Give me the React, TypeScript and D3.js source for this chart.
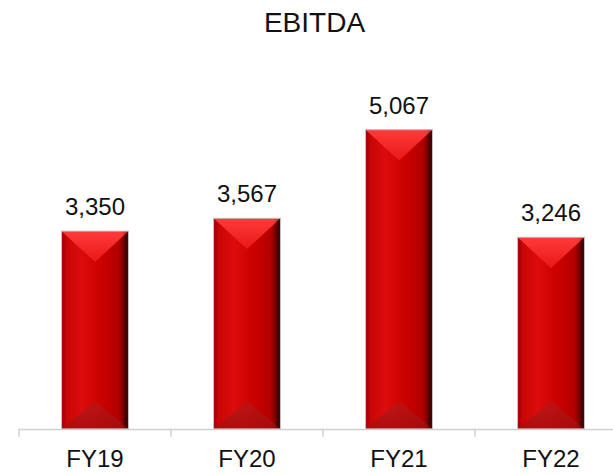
import React from "react";
import * as d3 from "d3";

const categories = ["FY19", "FY20", "FY21", "FY22"];
const values = [3350, 3567, 5067, 3246];
const title = "EBITDA";

const W = 613;
const H = 475;
const FONT = "'Liberation Sans', Arial, sans-serif";

export default function App() {
  const x = d3.scaleBand<string>().domain(categories).range([19, 627]).paddingInner(0.56).paddingOuter(0.28);
  const baseY = 429;
  const y = d3.scaleLinear().domain([0, 7000]).range([baseY, baseY - 7000 / 16.93]);
  const fmt = d3.format(",");
  const step = x.step();
  const ticks = d3.range(categories.length + 1).map((i) => 19 + i * step);

  return (
    <svg width={W} height={H} style={{ position: "absolute", left: 0, top: 0 }}>
      <defs>
        <linearGradient id="body" x1="0" x2="1" y1="0" y2="0">
          <stop offset="0" stopColor="#9a0000" />
          <stop offset="0.08" stopColor="#c80606" />
          <stop offset="0.3" stopColor="#dc0c0c" />
          <stop offset="0.6" stopColor="#cc0000" />
          <stop offset="0.85" stopColor="#b20000" />
          <stop offset="0.93" stopColor="#7a0000" />
          <stop offset="1" stopColor="#3a0000" />
        </linearGradient>
        <linearGradient id="topTri" x1="0" x2="0" y1="0" y2="1">
          <stop offset="0" stopColor="#ff3a3a" />
          <stop offset="1" stopColor="#e81818" />
        </linearGradient>
        <linearGradient id="botTri" x1="0" x2="0" y1="0" y2="1">
          <stop offset="0" stopColor="#b81818" />
          <stop offset="1" stopColor="#a01010" />
        </linearGradient>
        <linearGradient id="sideR" x1="0" x2="1" y1="0" y2="0">
          <stop offset="0" stopColor="#000" stopOpacity="0" />
          <stop offset="1" stopColor="#000" stopOpacity="0.35" />
        </linearGradient>
      </defs>
      <rect width={W} height={H} fill="#ffffff" />
      <text x={W / 2 + 8} y={32} textAnchor="middle" fontFamily={FONT} fontSize={28} fill="#111">
        {title}
      </text>
      {categories.map((c, i) => {
        const bx = x(c)!;
        const bw = x.bandwidth();
        const top = y(values[i]);
        const bot = y(0);
        const cx = bx + bw / 2;
        const bev = bw * 0.46;
        const bevB = bw * 0.42;
        return (
          <g key={c}>
            <rect x={bx} y={top} width={bw} height={bot - top} fill="url(#body)" />
            <path d={`M${bx},${top}L${bx + bw},${top}L${cx},${top + bev}Z`} fill="url(#topTri)" />
            <path
              d={`M${bx},${bot}L${bx + bw},${bot}L${cx},${bot - bevB}Z`}
              fill="url(#botTri)"
              opacity={0.75}
            />
            <rect x={bx + bw * 0.9} y={top} width={bw * 0.1} height={bot - top} fill="url(#sideR)" />
            <rect x={bx} y={top} width={bw} height={bot - top} fill="none" stroke="#c4c4c4" strokeWidth={1} />
            <text x={cx} y={top - 16} textAnchor="middle" fontFamily={FONT} fontSize={24} fill="#111">
              {fmt(values[i])}
            </text>
            <text x={cx} y={467} textAnchor="middle" fontFamily={FONT} fontSize={24} fill="#111">
              {c}
            </text>
          </g>
        );
      })}
      <line x1={19} x2={W} y1={baseY + 0.5} y2={baseY + 0.5} stroke="#d0d0d0" strokeWidth={1.5} />
      {ticks.map((t, i) => (
        <line key={i} x1={t} x2={t} y1={baseY} y2={baseY + 8} stroke="#d0d0d0" strokeWidth={1.5} />
      ))}
    </svg>
  );
}
